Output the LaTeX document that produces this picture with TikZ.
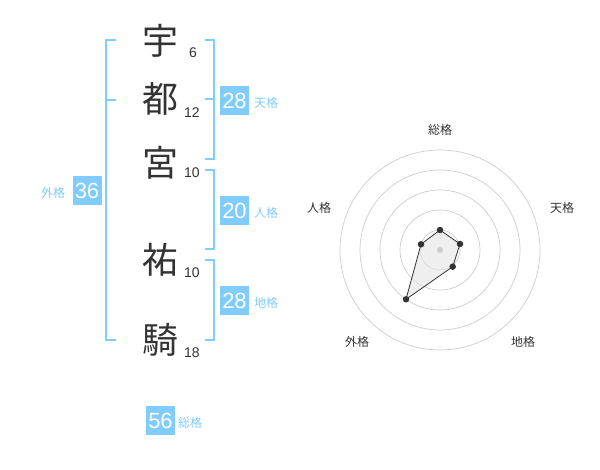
\documentclass[tikz,border=0pt]{standalone}
\usepackage{fontspec}
\setmainfont{Liberation Sans}
\newfontfamily\cjk{Noto Sans CJK JP}
\definecolor{kblue}{RGB}{128,204,255}
\definecolor{ktext}{RGB}{51,51,51}
\definecolor{kring}{RGB}{205,205,205}
\begin{document}
\begin{tikzpicture}[x=1pt,y=-1pt,
  kanji/.style={font=\cjk\fontsize{36}{36}\selectfont, text=ktext, inner sep=0},
  strokes/.style={font=\fontsize{14}{14}\selectfont, text=ktext, inner sep=0},
  scorebox/.style={fill=kblue, text=white, minimum size=29, inner sep=0, font=\fontsize{22}{22}\selectfont},
  scorelabel/.style={text=kblue, font=\cjk\fontsize{12}{12}\selectfont, inner sep=0},
  bracket/.style={draw=kblue, line width=2},
  ring/.style={draw=kring, line width=0.7},
  radarlabel/.style={font=\cjk\fontsize{12}{12}\selectfont, text=ktext, inner sep=0},
  polyline/.style={draw=ktext, line width=0.8, fill=black!10, fill opacity=0.6},
  vdot/.style={fill=ktext, circle, inner sep=0, minimum size=6.5},
]
\useasboundingbox (0,0) rectangle (600,470);
% kanji
\node[kanji] (k1) at (160,41) {宇};
\node[kanji] (k2) at (160,99) {都};
\node[kanji] (k3) at (160,163) {宮};
\node[kanji] (k4) at (160,260) {祐};
\node[kanji] (k5) at (160,340) {騎};
\node[strokes] (s1) at (193,53) {6};
\node[strokes] (s2) at (192,113) {12};
\node[strokes] (s3) at (192,173) {10};
\node[strokes] (s4) at (192,273) {10};
\node[strokes] (s5) at (192,353) {18};
% brackets
\coordinate (la) at (116,40); \coordinate (lb) at (106,40);
\coordinate (lc) at (106,340); \coordinate (ld) at (116,340);
\coordinate (le) at (106,100); \coordinate (lf) at (116,100);
\draw[bracket] (la) -- (lb) -- (lc) -- (ld);
\draw[bracket] (le) -- (lf);
\coordinate (ra1) at (205,40); \coordinate (rb1) at (214,40);
\coordinate (rc1) at (214,159); \coordinate (rd1) at (205,159);
\coordinate (re1) at (205,99); \coordinate (rf1) at (214,99);
\draw[bracket] (ra1) -- (rb1) -- (rc1) -- (rd1);
\draw[bracket] (re1) -- (rf1);
\coordinate (ra2) at (205,170); \coordinate (rb2) at (214,170);
\coordinate (rc2) at (214,249); \coordinate (rd2) at (205,249);
\draw[bracket] (ra2) -- (rb2) -- (rc2) -- (rd2);
\coordinate (ra3) at (205,260); \coordinate (rb3) at (214,260);
\coordinate (rc3) at (214,340); \coordinate (rd3) at (205,340);
\draw[bracket] (ra3) -- (rb3) -- (rc3) -- (rd3);
% scores
\node[scorebox] (ten) at (234.5,100.5) {28};
\node[scorelabel] (tenl) at (266,103) {天格};
\node[scorebox] (jin) at (234.5,210.5) {20};
\node[scorelabel] (jinl) at (266,213) {人格};
\node[scorebox] (chi) at (234.5,300.5) {28};
\node[scorelabel] (chil) at (266,303) {地格};
\node[scorebox] (gai) at (87,190.5) {36};
\node[scorelabel] (gail) at (53,193) {外格};
\node[scorebox] (sou) at (160.5,420.5) {56};
\node[scorelabel] (soul) at (190,423) {総格};
% radar
\coordinate (C) at (440,250);
\foreach \r in {20,40,60,80,100} \draw[ring] (C) circle (\r);
\coordinate (p1) at (440,230);
\coordinate (p2) at (460,244);
\coordinate (p3) at (452.7,266.7);
\coordinate (p4) at (406,299.3);
\coordinate (p5) at (421,244.3);
\draw[polyline] (p1) -- (p2) -- (p3) -- (p4) -- (p5) -- cycle;
\node[circle, fill=kring, inner sep=0, minimum size=6] (cdot) at (C) {};
\foreach \p in {p1,p2,p3,p4,p5} \node[vdot] (d\p) at (\p) {};
\node[radarlabel] (r1) at (440,130) {総格};
\node[radarlabel] (r2) at (562,208) {天格};
\node[radarlabel] (r3) at (523,342) {地格};
\node[radarlabel] (r4) at (357,342) {外格};
\node[radarlabel] (r5) at (319,208) {人格};
\end{tikzpicture}
\end{document}
